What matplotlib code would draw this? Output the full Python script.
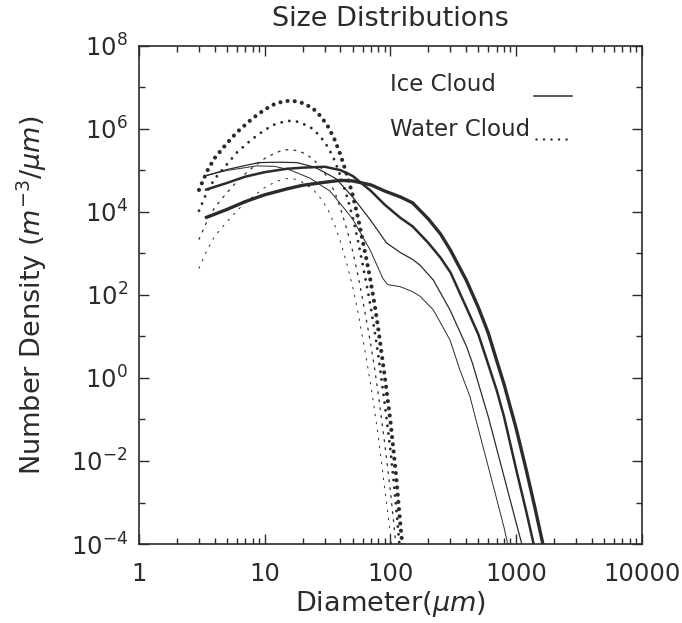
import matplotlib
matplotlib.use("Agg")
import matplotlib.pyplot as plt
from matplotlib.ticker import FixedLocator, FixedFormatter, NullFormatter, LogFormatterMathtext

plt.rcParams["font.family"] = ["DejaVu Sans"]
plt.rcParams["mathtext.fontset"] = "dejavusans"
plt.rcParams["lines.scale_dashes"] = False

INK = "#2b2b2b"

# ---- Water cloud size distributions (number density, m^-3 / um) ----
diam_water = [3, 3.5, 4, 5, 6, 7, 8, 10, 12, 14, 16, 18, 20, 24, 28, 32, 36, 40,
              45, 50, 55, 60, 65, 70, 75, 80, 90, 100, 110, 120, 125]
water_1 = [3.4e4, 1.0e5, 2.0e5, 4.5e5, 8.3e5, 1.26e6, 1.8e6, 2.95e6, 4.0e6, 4.6e6,
           4.8e6, 4.6e6, 4.2e6, 3.2e6, 2.0e6, 1.12e6, 5.5e5, 2.4e5, 7.9e4, 2.6e4,
           7.6e3, 2.1e3, 6.3e2, 1.9e2, 56, 15, 1.1, 0.089, 5.6e-3, 2.8e-4, 7.9e-5]
water_2 = [1.07e4, 3.2e4, 6.3e4, 1.4e5, 2.7e5, 4.1e5, 5.8e5, 9.5e5, 1.29e6, 1.48e6,
           1.58e6, 1.51e6, 1.35e6, 1.02e6, 6.3e5, 3.55e5, 1.74e5, 7.4e4, 2.4e4, 7.6e3,
           2.1e3, 5.6e2, 1.6e2, 47, 13, 3.5, 0.24, 0.018, 1.07e-3, 5.0e-5, 1.3e-5]
water_3 = [2.2e3, 6.3e3, 1.29e4, 2.9e4, 5.4e4, 8.3e4, 1.17e5, 1.95e5, 2.6e5, 3.1e5,
           3.2e5, 3.0e5, 2.7e5, 1.95e5, 1.17e5, 6.3e4, 3.0e4, 1.23e4, 3.8e3, 1.15e3,
           3.1e2, 79, 21, 5.9, 1.6, 0.40, 0.026, 1.8e-3, 1.12e-4, 6.3e-6, 1.5e-6]
water_4 = [4.4e2, 1.26e3, 2.6e3, 5.8e3, 1.07e4, 1.66e4, 2.3e4, 3.9e4, 5.2e4, 6.2e4,
           6.5e4, 6.0e4, 5.2e4, 3.6e4, 2.1e4, 1.1e4, 4.9e3, 1.95e3, 5.6e2, 1.6e2,
           40, 9.5, 2.4, 0.62, 0.155, 0.038, 2.2e-3, 1.6e-4, 1.0e-5, 6e-7, 1.5e-7]

# ---- Ice cloud size distributions ----
diam_ice_1 = [3.35, 5, 7, 10, 15, 20, 30, 40, 50, 70, 90, 120, 150, 200, 250, 300,
              400, 500, 600, 700, 800, 1000, 1200, 1400, 1700]
ice_1 = [7.2e3, 1.15e4, 1.78e4, 2.6e4, 3.6e4, 4.4e4, 5.2e4, 5.8e4, 5.6e4, 4.5e4,
         3.2e4, 2.3e4, 1.66e4, 6.8e3, 2.95e3, 1.2e3, 2.3e2, 50, 12, 2.6, 0.71,
         0.060, 6.2e-3, 8.1e-4, 5.6e-5]

diam_ice_2 = [3.35, 5, 7, 10, 15, 20, 30, 40, 50, 70, 90, 120, 150, 200, 250, 300,
              400, 500, 600, 700, 800, 1000, 1200, 1400, 1600]
ice_2 = [3.4e4, 5.0e4, 7.1e4, 9.1e4, 1.1e5, 1.17e5, 1.23e5, 1.02e5, 7.4e4, 3.2e4,
         1.5e4, 7.2e3, 4.5e3, 1.8e3, 7.9e2, 3.5e2, 51, 11.2, 2.1, 0.50, 0.117,
         6.2e-3, 6.2e-4, 7.9e-5, 1.26e-5]

diam_ice_3 = [3.35, 5, 7, 9, 13, 18, 25, 31, 37, 50, 69, 93, 120, 150, 172, 219,
              297, 404, 450, 600, 800, 1000, 1200]
ice_3 = [7.4e4, 1.05e5, 1.32e5, 1.55e5, 1.58e5, 1.55e5, 1.2e5, 8.5e4, 6.3e4, 2.3e4,
         6.5e3, 1.8e3, 1.05e3, 7.2e2, 5.2e2, 2.3e2, 44, 5.6, 2.2, 0.115, 4.2e-3,
         3.2e-4, 4.0e-5]

diam_ice_4 = [3.35, 5, 8.6, 12, 16, 23, 29, 33, 40, 50, 69, 87, 95, 120, 150, 172,
              219, 297, 357, 429, 500, 600, 700, 800, 900]
ice_4 = [7.4e4, 1.0e5, 1.29e5, 1.26e5, 1.02e5, 6.5e4, 4.1e4, 3.2e4, 1.58e4, 6.8e3,
         1.2e3, 2.5e2, 1.78e2, 1.58e2, 1.2e2, 93, 44, 8.3, 1.55, 0.355, 0.059,
         7.2e-3, 1.2e-3, 2.5e-4, 5.0e-5]

x_ticks = [1, 10, 100, 1000, 10000]
x_tick_labels = ["1", "10", "100", "1000", "10000"]
y_ticks = [1e-4, 1e-2, 1e0, 1e2, 1e4, 1e6, 1e8]
y_minor = [1e-3, 1e-1, 1e1, 1e3, 1e5, 1e7]

fig = plt.figure(figsize=(6.82, 6.23), dpi=100)
ax = fig.add_axes([0.2038, 0.1268, 0.7375, 0.7994])
ax.set_xscale("log")
ax.set_yscale("log")

# ice clouds: solid lines, from thick to thin
ice_sets = [(diam_ice_1, ice_1, 2.4), (diam_ice_2, ice_2, 1.8),
            (diam_ice_3, ice_3, 0.9), (diam_ice_4, ice_4, 0.7)]
for d, n, lw in ice_sets:
    ax.plot(d, n, color=INK, lw=lw, solid_joinstyle="round", solid_capstyle="butt")

# water clouds: dotted lines, from thick to thin
water_sets = [(water_1, 3.0, (0.01, 5.2)), (water_2, 2.1, (0.01, 5.6)),
              (water_3, 0.9, (1.4, 4.4)), (water_4, 0.7, (1.2, 4.6))]
for n, lw, dash in water_sets:
    ax.plot(diam_water, n, color=INK, lw=lw, linestyle=(0, dash),
            dash_capstyle="round")

ax.set_xlim(1, 1e4)
ax.set_ylim(1e-4, 1e8)

ax.xaxis.set_major_locator(FixedLocator(x_ticks))
ax.xaxis.set_major_formatter(FixedFormatter(x_tick_labels))
ax.xaxis.set_minor_locator(FixedLocator([k * 10 ** e for e in range(4) for k in range(2, 10)]))
ax.xaxis.set_minor_formatter(NullFormatter())
ax.yaxis.set_major_locator(FixedLocator(y_ticks))
ax.yaxis.set_major_formatter(LogFormatterMathtext())
ax.yaxis.set_minor_locator(FixedLocator(y_minor))
ax.yaxis.set_minor_formatter(NullFormatter())

ax.tick_params(which="both", direction="in", top=True, right=True, color=INK,
               width=1.0, labelcolor=INK, labelsize=17.5)
ax.tick_params(which="major", length=7)
ax.tick_params(which="minor", length=4)
ax.tick_params(axis="x", which="major", pad=13)
ax.tick_params(axis="y", which="major", pad=8)
for sp in ax.spines.values():
    sp.set_color(INK)
    sp.set_linewidth(1.2)

# legend drawn as text with short line samples
ax.text(0.50, 0.922, "Ice Cloud", transform=ax.transAxes, fontsize=16.5,
        color=INK, va="center", ha="left")
ax.plot([0.786, 0.860], [0.900, 0.900], transform=ax.transAxes, color=INK, lw=1.1)
ax.text(0.50, 0.832, "Water Cloud", transform=ax.transAxes, fontsize=16.5,
        color=INK, va="center", ha="left")
ax.plot([0.790, 0.860], [0.814, 0.814], transform=ax.transAxes, color=INK, lw=1.8,
        linestyle=(0, (0.01, 5.4)), dash_capstyle="round")

cx = 0.2038 + 0.7375 / 2
fig.text(cx, 0.970, "Size Distributions", ha="center", va="center",
         fontsize=19.5, color=INK)
fig.text(cx, 0.030, r"Diameter($\mu m$)", ha="center", va="center",
         fontsize=19.5, color=INK)
fig.text(0.046, 0.5265, r"Number Density ($m^{-3}/\mu m$)", ha="center",
         va="center", rotation=90, fontsize=19.5, color=INK)

fig.savefig("out.png", dpi=100)
